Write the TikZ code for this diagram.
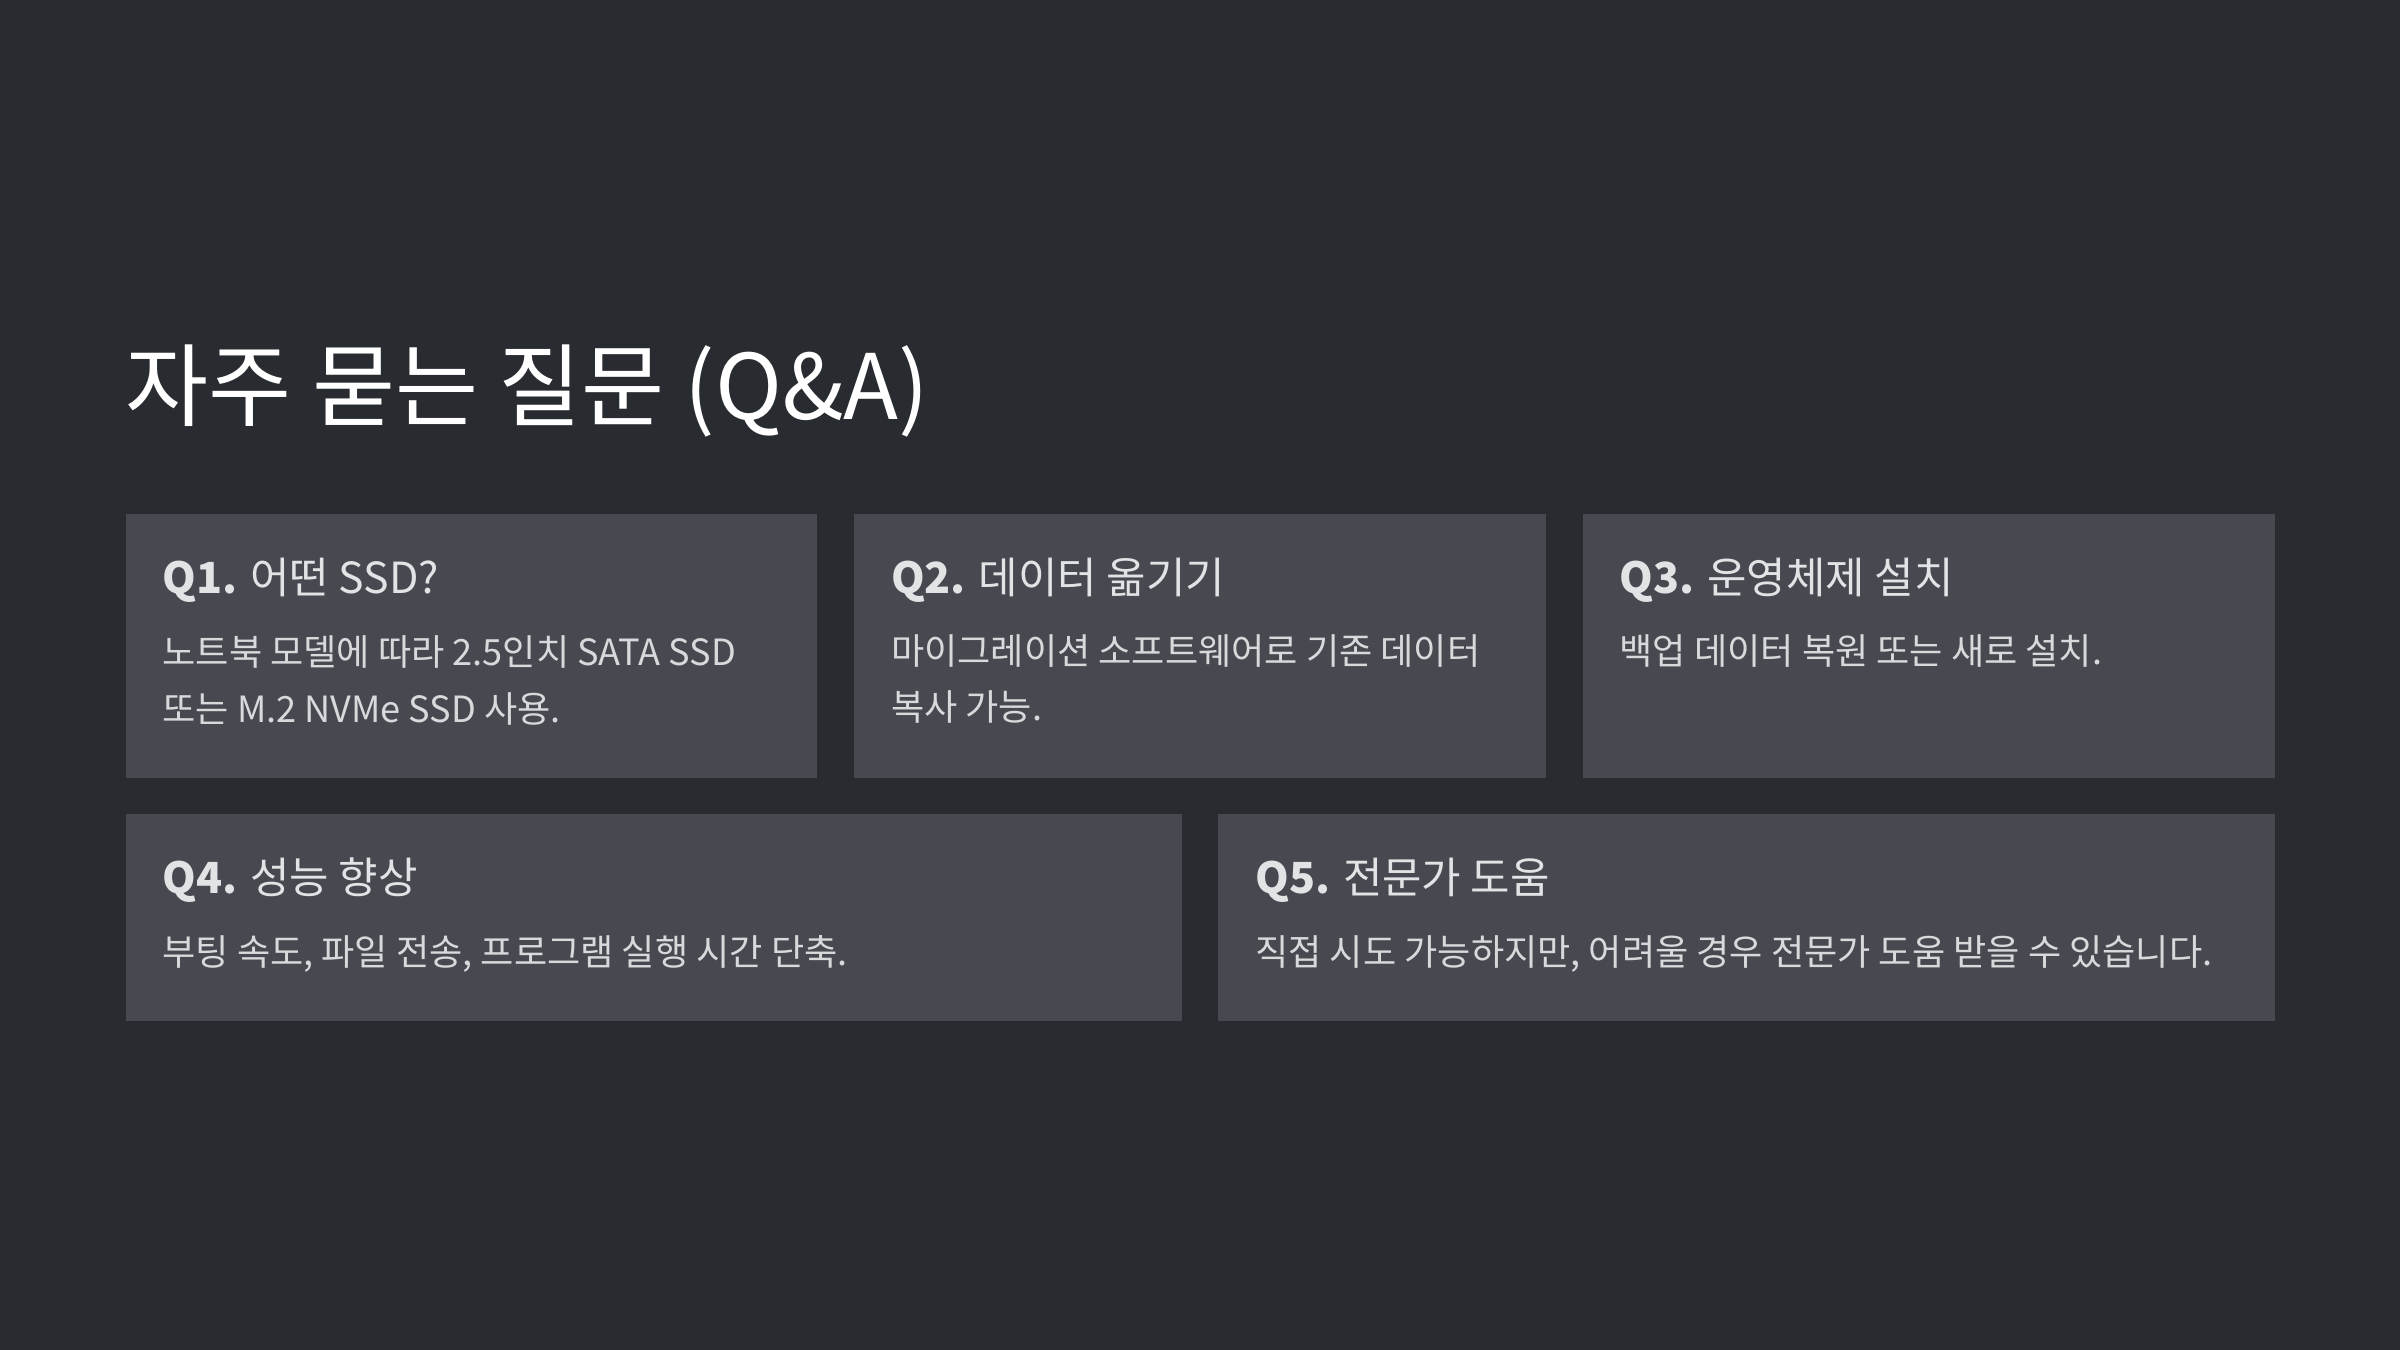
\documentclass[tikz,border=0pt]{standalone}
\usepackage{fontspec}
\setmainfont{Noto Sans CJK KR}
\definecolor{bgc}{HTML}{282B30}
\definecolor{boxc}{HTML}{464950}
\definecolor{txt}{HTML}{E2E3E5}
\definecolor{qtxt}{HTML}{D8D9DB}
\begin{document}
\begin{tikzpicture}[x=1pt,y=-1pt,
  card/.style={fill=boxc,draw=none},
  qh/.style={anchor=base west,inner sep=0pt,text=txt,font=\fontsize{28}{32}\selectfont},
  body/.style={anchor=base west,inner sep=0pt,text=qtxt,font=\fontsize{23.6}{37}\selectfont}]
\fill[bgc] (0,0) rectangle (1568,882);
\useasboundingbox (0,0) rectangle (1568,882);
\node[anchor=base west,inner sep=0pt,text=white,font=\fontsize{59}{64}\selectfont] (title) at (82,274) {자주 묻는 질문 (Q\&A)};
\path[card] (82,336) rectangle (534,508);
\path[card] (558,336) rectangle (1010,508);
\path[card] (1034,336) rectangle (1486,508);
\path[card] (82,532) rectangle (772,667);
\path[card] (796,532) rectangle (1486,667);
\node[qh] (q1) at (106,388) {\textbf{Q1.} 어떤 SSD?};
\node[body] (a1) at (106,435) {노트북 모델에 따라 2.5인치 SATA SSD};
\node[body] (a1b) at (106,472) {또는 M.2 NVMe SSD 사용.};
\node[qh] (q2) at (582,388) {\textbf{Q2.} 데이터 옮기기};
\node[body] (a2) at (582,434) {마이그레이션 소프트웨어로 기존 데이터};
\node[body] (a2b) at (582,471) {복사 가능.};
\node[qh] (q3) at (1058,388) {\textbf{Q3.} 운영체제 설치};
\node[body] (a3) at (1058,434) {백업 데이터 복원 또는 새로 설치.};
\node[qh] (q4) at (106,584) {\textbf{Q4.} 성능 향상};
\node[body] (a4) at (106,631) {부팅 속도, 파일 전송, 프로그램 실행 시간 단축.};
\node[qh] (q5) at (820,584) {\textbf{Q5.} 전문가 도움};
\node[body] (a5) at (820,631) {직접 시도 가능하지만, 어려울 경우 전문가 도움 받을 수 있습니다.};
\end{tikzpicture}
\end{document}
